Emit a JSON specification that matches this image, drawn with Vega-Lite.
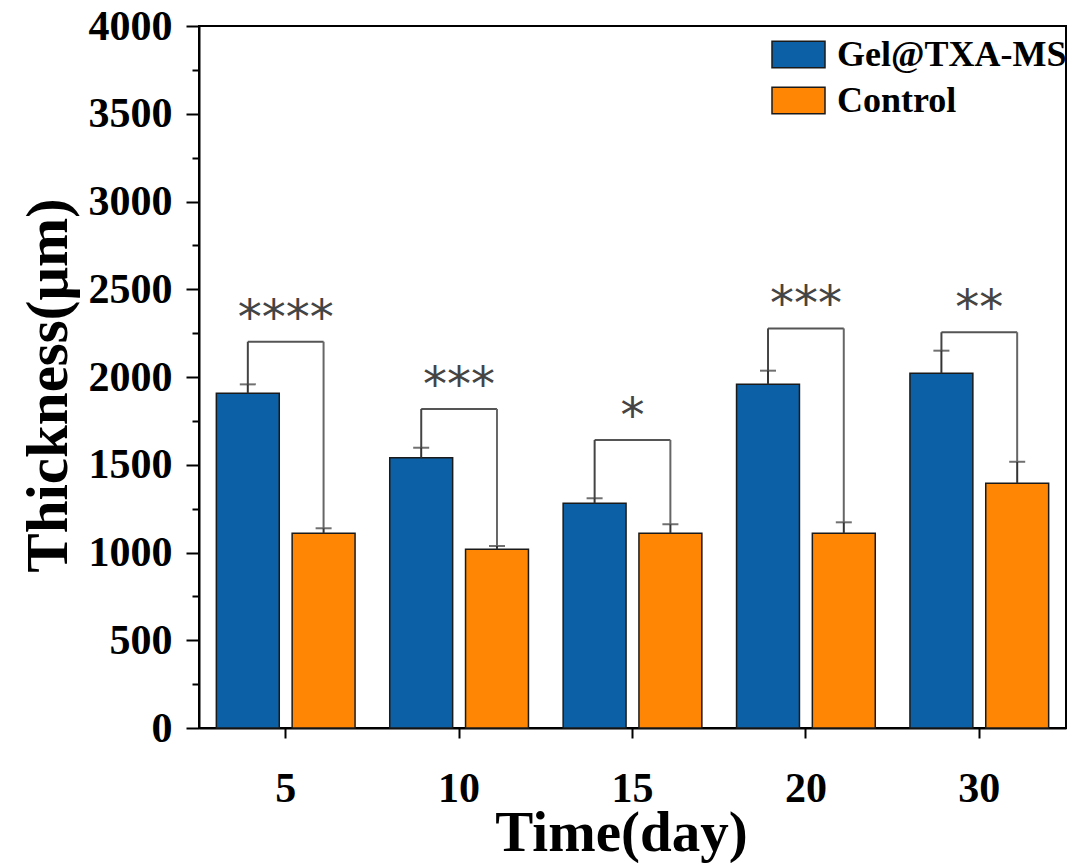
{
  "$schema": "https://vega.github.io/schema/vega-lite/v6.json",
  "width": 867,
  "height": 702,
  "autosize": "none",
  "padding": {"left": 199, "top": 26, "right": 6, "bottom": 135},
  "background": "white",
  "config": {
    "view": {"stroke": "#000", "strokeWidth": 2},
    "font": "Liberation Serif"
  },
  "datasets": {
    "bars": [
      {"day": 5, "group": "Gel@TXA-MS", "value": 1907, "upper": 1958},
      {"day": 5, "group": "Control", "value": 1109, "upper": 1138},
      {"day": 10, "group": "Gel@TXA-MS", "value": 1540, "upper": 1597},
      {"day": 10, "group": "Control", "value": 1018, "upper": 1037},
      {"day": 15, "group": "Gel@TXA-MS", "value": 1280, "upper": 1309},
      {"day": 15, "group": "Control", "value": 1109, "upper": 1161},
      {"day": 20, "group": "Gel@TXA-MS", "value": 1958, "upper": 2036},
      {"day": 20, "group": "Control", "value": 1109, "upper": 1172},
      {"day": 30, "group": "Gel@TXA-MS", "value": 2021, "upper": 2150},
      {"day": 30, "group": "Control", "value": 1394, "upper": 1517}
    ],
    "brackets": [
      {"day": 5, "bracket": 2201, "gelTop": 1958, "controlTop": 1138, "stars": "****"},
      {"day": 10, "bracket": 1818, "gelTop": 1597, "controlTop": 1037, "stars": "***"},
      {"day": 15, "bracket": 1641, "gelTop": 1309, "controlTop": 1161, "stars": "*"},
      {"day": 20, "bracket": 2277, "gelTop": 2036, "controlTop": 1172, "stars": "***"},
      {"day": 30, "bracket": 2255, "gelTop": 2150, "controlTop": 1517, "stars": "**"}
    ]
  },
  "encoding": {
    "x": {
      "field": "day",
      "type": "ordinal",
      "scale": {"paddingInner": 0.2, "paddingOuter": 0.1},
      "axis": {
        "title": "Time(day)",
        "labelAngle": 0,
        "labelFont": "Liberation Serif",
        "labelFontWeight": "bold",
        "labelFontSize": 42,
        "labelColor": "#000",
        "labelPadding": 30,
        "tickSize": 10,
        "tickWidth": 2,
        "tickColor": "#000",
        "domainColor": "#000",
        "domainWidth": 2,
        "titleFont": "Liberation Serif",
        "titleFontWeight": "bold",
        "titleFontSize": 57,
        "titleColor": "#000",
        "titleBaseline": "alphabetic",
        "titleX": 422,
        "titleY": 122
      }
    }
  },
  "layer": [
    {
      "data": {"name": "bars"},
      "mark": {"type": "bar", "stroke": "#1a1a1a", "strokeWidth": 1.5},
      "encoding": {
        "xOffset": {
          "field": "group",
          "type": "nominal",
          "sort": ["Gel@TXA-MS", "Control"],
          "scale": {"paddingInner": 0.17, "paddingOuter": 0}
        },
        "y": {
          "field": "value",
          "type": "quantitative",
          "scale": {"domain": [0, 4000], "nice": false},
          "axis": {
            "title": "Thickness(μm)",
            "values": [0, 250, 500, 750, 1000, 1250, 1500, 1750, 2000, 2250, 2500, 2750, 3000, 3250, 3500, 3750, 4000],
            "labelExpr": "datum.value % 500 === 0 ? datum.label : ''",
            "format": "d",
            "grid": false,
            "labelFont": "Liberation Serif",
            "labelFontWeight": "bold",
            "labelFontSize": 42,
            "labelColor": "#000",
            "labelPadding": 14,
            "tickSize": {"condition": {"test": "datum.value % 500 === 0", "value": 13}, "value": 7},
            "tickWidth": 2,
            "tickColor": "#000",
            "domainColor": "#000",
            "domainWidth": 2,
            "titleFont": "Liberation Serif",
            "titleFontWeight": "bold",
            "titleFontSize": 59,
            "titleColor": "#000",
            "titleBaseline": "alphabetic",
            "titleAngle": -90,
            "titleX": -133,
            "titleY": 359
          }
        },
        "color": {
          "field": "group",
          "type": "nominal",
          "sort": ["Gel@TXA-MS", "Control"],
          "scale": {"domain": ["Gel@TXA-MS", "Control"], "range": ["#0c60a6", "#ff8504"]},
          "legend": {
            "title": null,
            "orient": "none",
            "legendX": 572,
            "legendY": 1,
            "padding": 0,
            "symbolType": "M-1,-0.5H1V0.5H-1Z",
            "symbolSize": 2809,
            "symbolStrokeColor": "#1a1a1a",
            "symbolStrokeWidth": 1.5,
            "symbolOpacity": 1,
            "labelFont": "Liberation Serif",
            "labelFontWeight": "bold",
            "labelFontSize": 36,
            "labelColor": "#000",
            "labelOffset": 11,
            "rowPadding": -8,
            "labelLimit": 400
          }
        }
      }
    },
    {
      "data": {"name": "bars"},
      "mark": {"type": "rule", "color": "#333", "strokeWidth": 2},
      "encoding": {
        "xOffset": {"field": "group", "type": "nominal", "sort": ["Gel@TXA-MS", "Control"], "scale": {"paddingInner": 0.17, "paddingOuter": 0}},
        "y": {"field": "value", "type": "quantitative"},
        "y2": {"field": "upper"}
      }
    },
    {
      "data": {"name": "bars"},
      "mark": {"type": "tick", "color": "#333", "thickness": 2, "size": 16},
      "encoding": {
        "xOffset": {"field": "group", "type": "nominal", "sort": ["Gel@TXA-MS", "Control"], "scale": {"paddingInner": 0.17, "paddingOuter": 0}},
        "y": {"field": "upper", "type": "quantitative"}
      }
    },
    {
      "data": {"name": "brackets"},
      "mark": {"type": "rule", "color": "#555", "strokeWidth": 2},
      "encoding": {
        "x": {"field": "day", "type": "ordinal", "bandPosition": 0.227},
        "x2": {"field": "day", "bandPosition": 0.773},
        "y": {"field": "bracket", "type": "quantitative"}
      }
    },
    {
      "data": {"name": "brackets"},
      "mark": {"type": "rule", "color": "#444", "strokeWidth": 2},
      "encoding": {
        "x": {"field": "day", "type": "ordinal", "bandPosition": 0.227},
        "y": {"field": "gelTop", "type": "quantitative"},
        "y2": {"field": "bracket"}
      }
    },
    {
      "data": {"name": "brackets"},
      "mark": {"type": "rule", "color": "#666", "strokeWidth": 2},
      "encoding": {
        "x": {"field": "day", "type": "ordinal", "bandPosition": 0.773},
        "y": {"field": "controlTop", "type": "quantitative"},
        "y2": {"field": "bracket"}
      }
    },
    {
      "data": {"name": "brackets"},
      "mark": {"type": "text", "font": "DejaVu Sans", "fontSize": 48, "color": "#444", "baseline": "middle", "align": "center", "dy": -22},
      "encoding": {
        "y": {"field": "bracket", "type": "quantitative"},
        "text": {"field": "stars"}
      }
    }
  ]
}
